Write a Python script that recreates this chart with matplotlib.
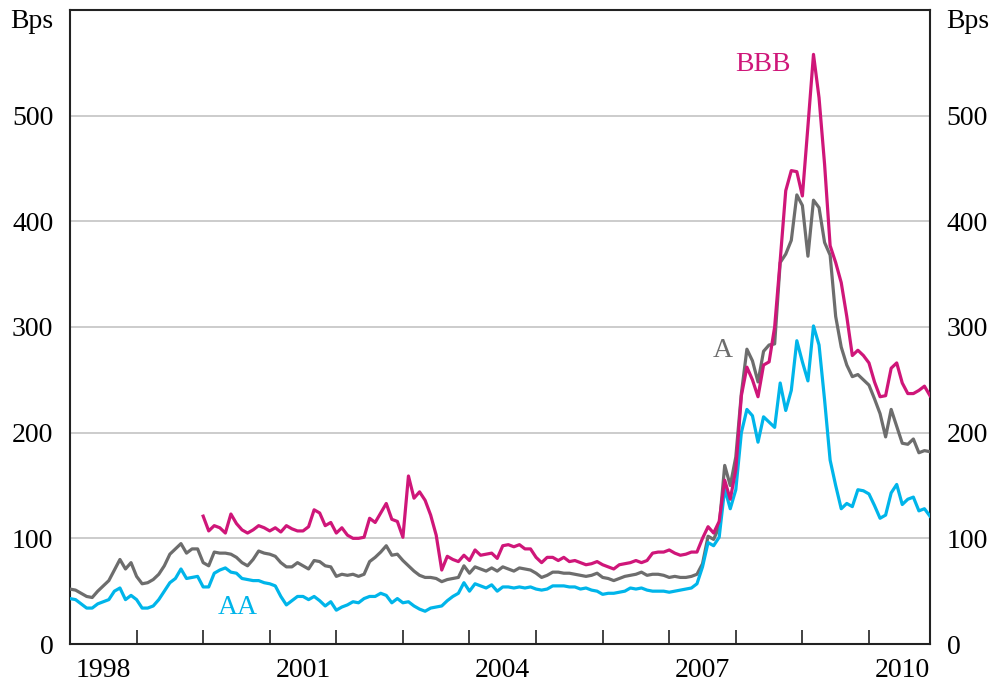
import numpy as np
import matplotlib
matplotlib.use("Agg")
import matplotlib.pyplot as plt

plt.rcParams['font.family'] = ['Liberation Serif', 'DejaVu Serif']

# monthly spreads, Jan 1998 - Dec 2010 (BBB from Jan 2000)
a_spread = [
    52, 51, 48, 45, 44, 50, 55, 60, 70, 80, 71, 77,        # 1998
    64, 57, 58, 61, 66, 74, 85, 90, 95, 86, 90, 90,        # 1999
    77, 74, 87, 86, 86, 85, 82, 77, 74, 80, 88, 86,        # 2000
    85, 83, 77, 73, 73, 77, 74, 71, 79, 78, 74, 73,        # 2001
    64, 66, 65, 66, 64, 66, 78, 82, 87, 93, 84, 85,        # 2002
    79, 74, 69, 65, 63, 63, 62, 59, 61, 62, 63, 74,        # 2003
    67, 73, 71, 69, 72, 69, 73, 71, 69, 72, 71, 70,        # 2004
    67, 63, 65, 68, 68, 67, 67, 66, 65, 64, 65, 67,        # 2005
    63, 62, 60, 62, 64, 65, 66, 68, 65, 66, 66, 65,        # 2006
    63, 64, 63, 63, 64, 66, 76, 102, 99, 111, 169, 150,    # 2007
    177, 237, 279, 268, 248, 277, 283, 284, 361, 369, 382, 425,  # 2008
    415, 367, 420, 413, 380, 368, 310, 281, 264, 253, 255, 250,  # 2009
    245, 232, 218, 196, 222, 206, 190, 189, 194, 181, 183, 182,  # 2010
]
aa_spread = [
    43, 42, 38, 34, 34, 38, 40, 42, 50, 53, 42, 46,
    42, 34, 34, 36, 42, 50, 58, 62, 71, 62, 63, 64,
    54, 54, 67, 70, 72, 68, 67, 62, 61, 60, 60, 58,
    57, 55, 45, 37, 41, 45, 45, 42, 45, 41, 36, 40,
    32, 35, 37, 40, 39, 43, 45, 45, 48, 46, 39, 43,
    39, 40, 36, 33, 31, 34, 35, 36, 41, 45, 48, 58,
    50, 57, 55, 53, 56, 50, 54, 54, 53, 54, 53, 54,
    52, 51, 52, 55, 55, 55, 54, 54, 52, 53, 51, 50,
    47, 48, 48, 49, 50, 53, 52, 53, 51, 50, 50, 50,
    49, 50, 51, 52, 53, 57, 73, 96, 93, 101, 147, 128,
    146, 200, 222, 216, 191, 215, 210, 205, 247, 221, 240, 287,
    267, 249, 301, 283, 231, 174, 150, 128, 133, 130, 146, 145,
    142, 131, 119, 122, 143, 151, 132, 137, 139, 126, 128, 121,
]
bbb_spread = [
    121, 107, 112, 110, 105, 123, 114, 108, 105, 108, 112, 110,   # 2000
    107, 110, 106, 112, 109, 107, 107, 111, 127, 124, 112, 115,   # 2001
    105, 110, 103, 100, 100, 101, 119, 115, 124, 133, 118, 116,   # 2002
    101, 159, 138, 144, 136, 122, 103, 70, 83, 80, 78, 84,        # 2003
    79, 89, 84, 85, 86, 81, 93, 94, 92, 94, 90, 90,               # 2004
    82, 77, 82, 82, 79, 82, 78, 79, 77, 75, 76, 78,               # 2005
    75, 73, 71, 75, 76, 77, 79, 77, 79, 86, 87, 87,               # 2006
    89, 86, 84, 85, 87, 87, 100, 111, 105, 116, 155, 137,         # 2007
    165, 235, 262, 250, 234, 264, 267, 300, 363, 429, 448, 447,   # 2008
    424, 490, 558, 517, 454, 377, 361, 342, 310, 273, 278, 273,   # 2009
    266, 248, 234, 235, 261, 266, 247, 237, 237, 240, 244, 235,   # 2010
]

t = 1998 + np.arange(len(a_spread)) / 12.0
t_bbb = 2000 + np.arange(len(bbb_spread)) / 12.0

col_a = '#6d6d6d'
col_aa = '#00b5ea'
col_bbb = '#cf1679'

fig = plt.figure(figsize=(9.92, 6.89), dpi=100)
ax = fig.add_axes([70/992, 45/689, 860/992, 634/689])

ax.plot(t, a_spread, color=col_a, lw=2.3, zorder=3)
ax.plot(t, aa_spread, color=col_aa, lw=2.3, zorder=3)
ax.plot(t_bbb, bbb_spread, color=col_bbb, lw=2.3, zorder=4)

ax.set_xlim(1998, 2010 + 11/12)
ax.set_ylim(0, 600)

# y axis: gridlines, labels both sides
ax.set_yticks([0, 100, 200, 300, 400, 500])
ax.grid(axis='y', color='#c4c4c4', lw=1.2, zorder=1)
ax.tick_params(axis='y', length=0, labelsize=20, pad=12,
               labelleft=True, labelright=True)

# x axis: year boundary ticks, labels centred in the year
ax.set_xticks(np.arange(1998, 2011))
ax.set_xticklabels([])
ax.tick_params(axis='x', which='major', direction='in', length=10, width=1.2, color='#222222')
ax.set_xticks([1998.5, 2001.5, 2004.5, 2007.5, 2010.5], minor=True)
ax.set_xticklabels(['1998', '2001', '2004', '2007', '2010'], minor=True)
ax.tick_params(axis='x', which='minor', length=0, labelsize=20, pad=10)

for s in ax.spines.values():
    s.set_linewidth(1.5)
    s.set_color('#222222')

ax.text(2008.41, 548, 'BBB', color=col_bbb, fontsize=20, ha='center', va='center')
ax.text(2007.81, 278, 'A', color=col_a, fontsize=20, ha='center', va='center')
ax.text(2000.52, 35, 'AA', color=col_aa, fontsize=20, ha='center', va='center')

fig.text(10/992, 1 - 22/689, 'Bps', fontsize=20, ha='left', va='center')
fig.text(946/992, 1 - 22/689, 'Bps', fontsize=20, ha='left', va='center')

fig.savefig('out.png', dpi=100)
